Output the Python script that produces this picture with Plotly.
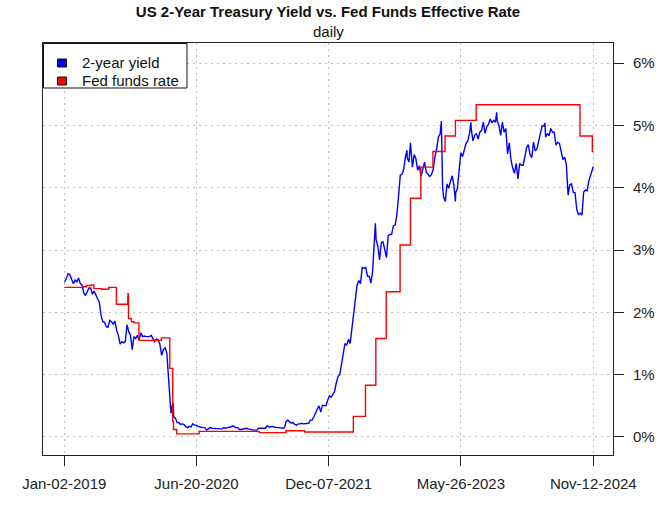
import plotly.graph_objects as go
import pandas as pd

# ---------------- data ----------------
# 2-year Treasury yield, weekly (Friday) readings, %
yield_2019 = [2.49, 2.55, 2.62, 2.60,
              2.52, 2.46, 2.52, 2.49,
              2.55, 2.46, 2.44, 2.31, 2.27,
              2.34, 2.39, 2.39, 2.29,
              2.34, 2.27, 2.20, 2.16, 1.95,
              1.85, 1.84, 1.77, 1.76,
              1.87, 1.85, 1.81, 1.86,
              1.71, 1.63, 1.49, 1.53, 1.51,
              1.53, 1.80, 1.69, 1.63,
              1.40, 1.61, 1.58, 1.63,
              1.56, 1.67, 1.61, 1.62, 1.61,
              1.61, 1.61, 1.63, 1.59]
yield_2020 = [1.53, 1.57, 1.56, 1.49, 1.31,
              1.40, 1.43, 1.35, 0.91,
              0.51, 0.49, 0.32, 0.30,
              0.23, 0.23, 0.20, 0.21,
              0.20, 0.16, 0.15, 0.17, 0.16,
              0.21, 0.19, 0.19, 0.17,
              0.16, 0.15, 0.15, 0.15, 0.11,
              0.13, 0.15, 0.14, 0.14,
              0.14, 0.13, 0.14, 0.13,
              0.13, 0.15, 0.14, 0.15, 0.15,
              0.16, 0.18, 0.16, 0.15,
              0.15, 0.12, 0.12, 0.13]
yield_2021 = [0.13, 0.14, 0.13, 0.12, 0.11,
              0.11, 0.11, 0.11, 0.14,
              0.14, 0.15, 0.15, 0.14,
              0.18, 0.16, 0.16, 0.17, 0.16,
              0.15, 0.15, 0.15, 0.14,
              0.14, 0.15, 0.25, 0.27,
              0.24, 0.22, 0.23, 0.20, 0.19,
              0.21, 0.21, 0.22, 0.21,
              0.21, 0.21, 0.22, 0.27,
              0.27, 0.32, 0.40, 0.45, 0.50,
              0.40, 0.51, 0.51, 0.50,
              0.59, 0.66, 0.64, 0.69, 0.73]
yield_2022 = [0.87, 0.97, 1.00, 1.17,
              1.31, 1.50, 1.47, 1.57,
              1.50, 1.75, 1.94, 2.28,
              2.44, 2.51, 2.46, 2.72, 2.71,
              2.72, 2.58, 2.58, 2.47,
              2.66, 3.06, 3.17, 3.06,
              2.84, 3.12, 3.13, 2.97, 2.88,
              3.23, 3.25, 3.25, 3.39,
              3.40, 3.56, 3.87, 4.20, 4.22,
              4.30, 4.50, 4.48, 4.41,
              4.66, 4.33, 4.53, 4.47,
              4.28, 4.35, 4.18, 4.32, 4.41]
yield_2023 = [4.25, 4.22, 4.18, 4.21,
              4.29, 4.49, 4.62, 4.81,
              4.86, 4.60, 3.85, 3.78, 4.06,
              3.99, 4.10, 4.19, 4.04,
              3.92, 3.98, 4.28, 4.56,
              4.50, 4.59, 4.71, 4.75, 4.87,
              4.94, 4.75, 4.84, 4.87,
              4.78, 4.89, 4.92, 5.05,
              4.87, 4.98, 5.02, 5.10, 5.04,
              5.08, 5.05, 5.07, 5.00,
              4.84, 5.05, 4.89, 4.95,
              4.54, 4.72, 4.44, 4.31, 4.23]
yield_2024 = [4.39, 4.14, 4.39, 4.36,
              4.36, 4.48, 4.64, 4.69,
              4.53, 4.48, 4.73, 4.59, 4.62,
              4.75, 4.90, 4.99, 4.99,
              4.81, 4.87, 4.83, 4.95, 4.89,
              4.89, 4.68, 4.73, 4.71,
              4.60, 4.45, 4.49, 4.37,
              3.88, 4.05, 4.06, 3.92, 3.92,
              3.65, 3.57, 3.59, 3.56,
              3.93, 3.96, 3.95, 4.11,
              4.20, 4.25]
first_fridays = ["2019-01-04", "2020-01-03", "2021-01-01",
                 "2022-01-07", "2023-01-06", "2024-01-05"]

# notable daily readings between the weekly points
extra_dates = ["2019-01-02", "2020-03-09", "2020-03-18", "2022-06-14",
               "2022-10-20", "2022-11-03", "2023-03-08", "2023-03-13",
               "2023-05-04", "2023-07-06", "2023-10-18", "2024-04-30",
               "2024-11-12"]
extra_vals = [2.49, 0.38, 0.54, 3.43,
              4.60, 4.72, 5.07, 4.03,
              3.78, 5.05, 5.21, 5.04,
              4.34]

# Fed funds effective rate, value from each change date (step)
fed_dates = ["2019-01-02", "2019-03-20", "2019-04-01", "2019-04-22", "2019-05-02",
             "2019-06-03", "2019-07-01", "2019-08-01", "2019-09-16", "2019-09-17",
             "2019-09-18", "2019-09-19", "2019-10-01", "2019-10-11", "2019-10-31",
             "2019-11-01", "2020-01-30", "2020-03-04", "2020-03-16", "2020-03-19",
             "2020-04-01", "2020-07-01", "2021-03-01", "2021-06-17", "2021-09-01",
             "2022-03-17", "2022-05-05", "2022-06-16", "2022-07-28", "2022-09-22",
             "2022-11-03", "2022-12-15", "2023-02-02", "2023-03-23", "2023-05-04",
             "2023-07-27", "2024-09-19", "2024-11-08", "2024-11-12"]
fed_vals = [2.40, 2.41, 2.43, 2.44, 2.38,
            2.37, 2.40, 2.13, 2.25, 2.30,
            2.25, 1.90, 1.85, 1.83, 1.58,
            1.55, 1.59, 1.10, 0.25, 0.12,
            0.05, 0.09, 0.07, 0.10, 0.08,
            0.33, 0.83, 1.58, 2.33, 3.08,
            3.83, 4.33, 4.58, 4.83, 5.08,
            5.33, 4.83, 4.58, 4.58]

tick_dates = ["2019-01-02", "2020-06-20", "2021-12-07", "2023-05-26", "2024-11-12"]
tick_text = ["Jan-02-2019", "Jun-20-2020", "Dec-07-2021", "May-26-2023", "Nov-12-2024"]
y_ticks = [0, 1, 2, 3, 4, 5, 6]
y_tick_text = ["0%", "1%", "2%", "3%", "4%", "5%", "6%"]
series_names = ["2-year yield", "Fed funds rate"]
series_colors = ["#0000FF", "#FF0000"]

# ---------------- build series ----------------
parts = []
for start, vals in zip(first_fridays,
                       [yield_2019, yield_2020, yield_2021, yield_2022, yield_2023, yield_2024]):
    idx = pd.date_range(start=start, periods=len(vals), freq="W-FRI")
    parts.append(pd.Series(vals, index=idx))
parts.append(pd.Series(extra_vals, index=pd.to_datetime(extra_dates)))
two_year = pd.concat(parts)
two_year = two_year[~two_year.index.duplicated(keep="last")].sort_index()

FONT = "Arial, Liberation Sans, sans-serif"

# plot area in pixels
L, R, T, B = 43, 613, 43, 455
def px(xp):
    return (xp - L) / (R - L)
def py(yp):
    return (B - yp) / (B - T)

fig = go.Figure()
fig.add_trace(go.Scatter(x=two_year.index, y=two_year.values, mode="lines",
                         name=series_names[0],
                         line=dict(color=series_colors[0], width=1.4), showlegend=False))
fig.add_trace(go.Scatter(x=pd.to_datetime(fed_dates), y=fed_vals, mode="lines",
                         name=series_names[1],
                         line=dict(color=series_colors[1], width=1.4, shape="hv"),
                         showlegend=False))

# legend drawn like the reference (box with filled squares)
shapes = [dict(type="rect", xref="paper", yref="paper",
               x0=px(43.5), x1=px(187), y0=py(88), y1=py(43.5),
               line=dict(color="#111111", width=1), fillcolor="white", layer="above")]
annotations = []
for i, (name, col) in enumerate(zip(series_names, series_colors)):
    cy = 63 + 18 * i
    shapes.append(dict(type="rect", xref="paper", yref="paper",
                       x0=px(57.5), x1=px(66.5), y0=py(cy + 4), y1=py(cy - 4),
                       line=dict(color="#111111", width=1), fillcolor=col, layer="above"))
    annotations.append(dict(text=name, xref="paper", yref="paper",
                            x=px(80), y=py(cy), xanchor="left", yanchor="middle",
                            showarrow=False,
                            font=dict(family=FONT, size=15, color="#111111")))
annotations.append(dict(text="daily", xref="paper", yref="paper",
                        x=0.5, y=py(32), xanchor="center", yanchor="middle",
                        showarrow=False, font=dict(family=FONT, size=15, color="#111111")))

fig.update_layout(
    width=668, height=508,
    margin=dict(l=L, r=668 - R, t=T, b=508 - B),
    paper_bgcolor="white", plot_bgcolor="white",
    font=dict(family=FONT, size=15, color="#222222"),
    title=dict(text="<b>US 2-Year Treasury Yield vs. Fed Funds Effective Rate</b>",
               x=(L + R) / 2 / 668, xanchor="center",
               y=1 - 12 / 508, yanchor="middle",
               font=dict(family="Liberation Sans Narrow, Arial Narrow, Liberation Sans, sans-serif",
                         size=15, color="#111111")),
    shapes=shapes,
    annotations=annotations,
    showlegend=False,
)
fig.update_xaxes(type="date",
                 range=["2018-10-08", "2025-01-30 17:00"],
                 tickmode="array", tickvals=tick_dates, ticktext=tick_text,
                 ticks="outside", ticklen=10, tickcolor="#222222", tickwidth=1,
                 ticklabelstandoff=5,
                 showline=True, mirror=True, linecolor="#222222", linewidth=1,
                 showgrid=True, gridcolor="#c0c0c0", griddash="2px,4px", gridwidth=1,
                 zeroline=False)
fig.update_yaxes(side="right", range=[-0.289, 6.321],
                 tickmode="array", tickvals=y_ticks, ticktext=y_tick_text,
                 ticks="outside", ticklen=10, tickcolor="#222222", tickwidth=1,
                 ticklabelstandoff=6,
                 showline=True, mirror=True, linecolor="#222222", linewidth=1,
                 showgrid=True, gridcolor="#c0c0c0", griddash="2px,4px", gridwidth=1,
                 zeroline=False)

fig.write_html("out.html")
